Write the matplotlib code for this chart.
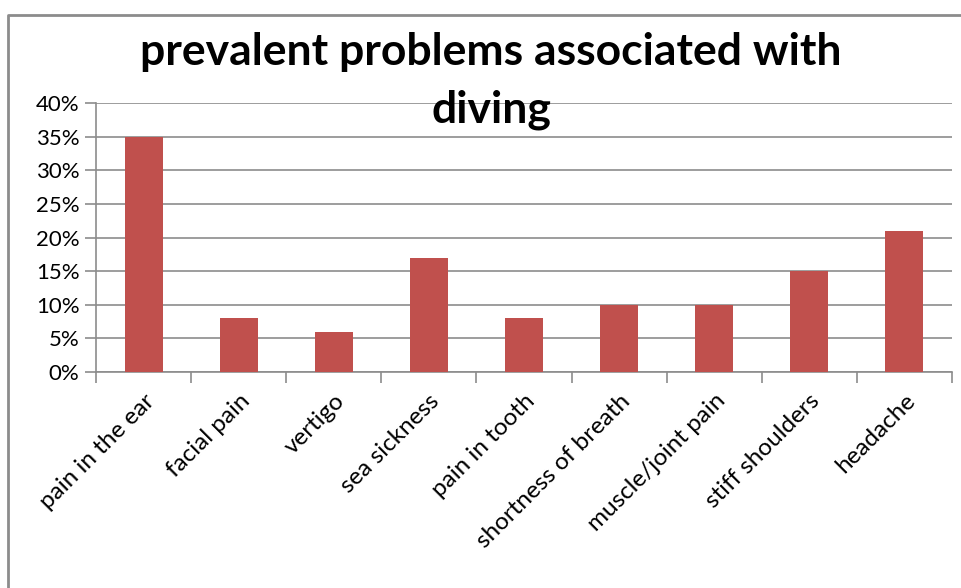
import matplotlib
matplotlib.use("Agg")
import matplotlib.pyplot as plt
from matplotlib.lines import Line2D

categories = ["pain in the ear", "facial pain", "vertigo", "sea sickness",
              "pain in tooth", "shortness of breath", "muscle/joint pain",
              "stiff shoulders", "headache"]
values = [0.35, 0.08, 0.06, 0.17, 0.08, 0.10, 0.10, 0.15, 0.21]
y_ticks = [0.0, 0.05, 0.10, 0.15, 0.20, 0.25, 0.30, 0.35, 0.40]

W, H = 961, 588
plt.rcParams['font.family'] = ['Lato', 'DejaVu Sans']

fig = plt.figure(figsize=(W / 100, H / 100), dpi=100)
ax = fig.add_axes([96 / W, 1 - 372 / H, (952 - 96) / W, (372 - 103) / H])

x = list(range(len(categories)))
ax.bar(x, values, width=0.4, color="#C0504D", zorder=3)

ax.set_xlim(-0.5, len(categories) - 0.5)
ax.set_ylim(0, 0.40)
ax.set_yticks(y_ticks)
ax.set_yticklabels([f"{int(round(v * 100))}%" for v in y_ticks], fontsize=16)
ax.yaxis.grid(True, color="#8c8c8c", linewidth=1.2, zorder=0)
ax.tick_params(axis="y", length=8, width=1.2, color="#8c8c8c", pad=4)

# category boundary ticks on x
ax.set_xticks([i - 0.5 for i in range(len(categories) + 1)], minor=False)
ax.set_xticklabels([""] * (len(categories) + 1))
ax.tick_params(axis="x", length=8, width=1.2, color="#8c8c8c")
ax.set_xticks(x, minor=True)
ax.set_xticklabels(categories, minor=True, rotation=45, ha="right",
                   rotation_mode="anchor", fontsize=17.5)
ax.tick_params(axis="x", which="minor", length=0, pad=13)

for s in ["top", "right"]:
    ax.spines[s].set_visible(False)
for s in ["left", "bottom"]:
    ax.spines[s].set_color("#8c8c8c")
    ax.spines[s].set_linewidth(1.2)

fig.text(491 / W, 1 - 81 / H, "prevalent problems associated with\ndiving",
         ha="center", va="center", fontsize=32, fontweight="bold",
         linespacing=1.5, zorder=5)

fig.add_artist(Line2D([8 / W, 8 / W, 1.0], [0.0, 1 - 14.5 / H, 1 - 14.5 / H],
                      transform=fig.transFigure, color="#8c8c8c", linewidth=2))

fig.savefig("out.png", dpi=100)
